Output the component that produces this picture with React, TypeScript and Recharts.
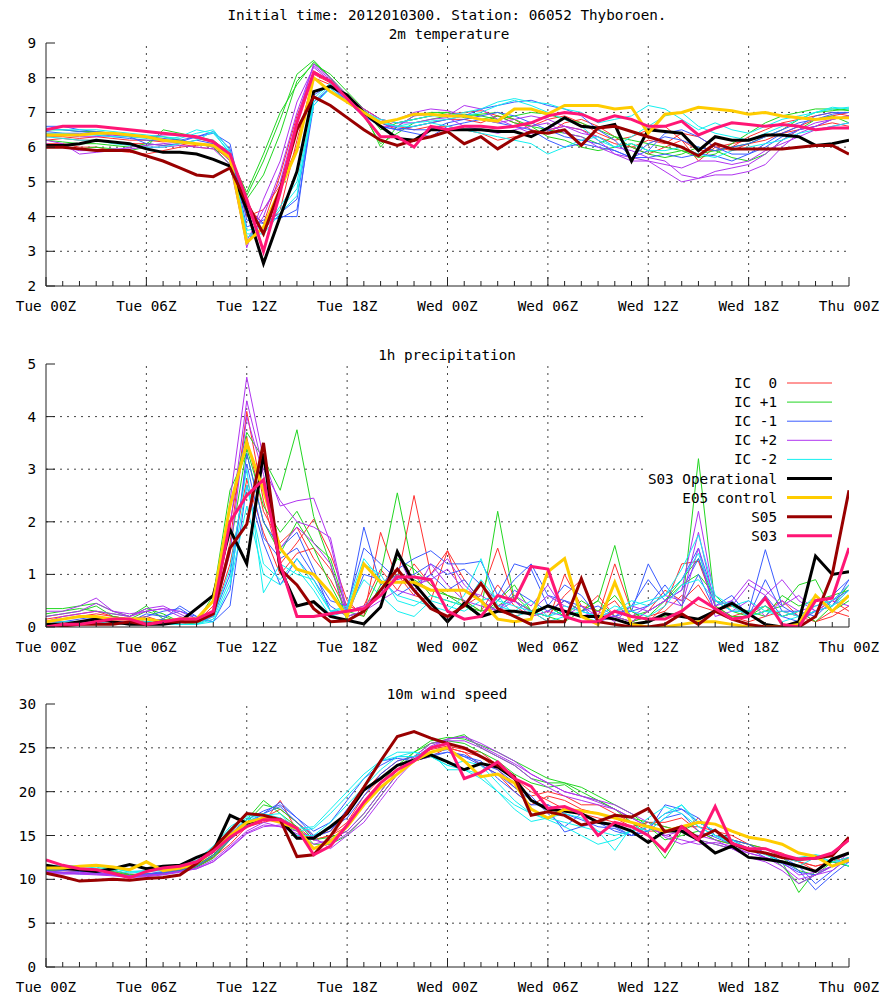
import React from 'react';
import { LineChart, Line, XAxis, YAxis, ReferenceLine } from 'recharts';

const FONT = '"DejaVu Sans Mono", "Liberation Mono", monospace';
const FRAME = '#222';
const GRID = '#444';

const hours = [
  0, 1, 2, 3, 4, 5, 6, 7, 8, 9, 10, 11, 12, 13, 14, 15, 16, 17, 18, 19, 20, 21, 22, 23, 24,
  25, 26, 27, 28, 29, 30, 31, 32, 33, 34, 35, 36, 37, 38, 39, 40, 41, 42, 43, 44, 45, 46, 47, 48,
];
const majorHours = [0, 6, 12, 18, 24, 30, 36, 42, 48];
const xTickLabels = ['Tue 00Z', 'Tue 06Z', 'Tue 12Z', 'Tue 18Z', 'Wed 00Z', 'Wed 06Z', 'Wed 12Z', 'Wed 18Z', 'Thu 00Z'];

const tempTicks = [2, 3, 4, 5, 6, 7, 8, 9];
const precTicks = [0, 1, 2, 3, 4, 5];
const windTicks = [0, 5, 10, 15, 20, 25, 30];

// 2m temperature
const tRedA = [6.2, 6.25, 6.2, 6.2, 6.15, 6.1, 6.1, 6.05, 6.1, 6.0, 5.95, 5.7, 4.3, 3.8, 5.2, 6.9, 8.2, 7.9, 7.4, 7.0, 6.7, 6.5, 6.6, 6.7, 6.8,
  6.8, 6.7, 6.9, 6.8, 6.5, 6.4, 6.7, 6.8, 6.6, 6.3, 6.0, 6.2, 6.1, 6.4, 6.3, 6.0, 5.9, 6.1, 6.2, 6.4, 6.6, 6.8, 6.9, 7.0];
const tRedB = [6.1, 6.1, 6.0, 6.0, 5.9, 5.85, 5.8, 5.9, 6.0, 6.05, 6.1, 5.8, 4.1, 3.6, 4.2, 6.2, 8.0, 7.8, 7.5, 7.1, 6.8, 6.6, 6.5, 6.6, 6.6,
  6.5, 6.4, 6.2, 6.3, 6.4, 6.5, 6.6, 6.5, 6.3, 6.1, 6.0, 5.8, 6.0, 6.2, 5.6, 6.0, 6.1, 6.2, 6.3, 6.4, 6.5, 6.6, 6.7, 6.6];
const tRedC = [6.3, 6.3, 6.25, 6.3, 6.25, 6.2, 6.2, 6.15, 6.2, 6.1, 6.05, 5.6, 4.0, 4.2, 4.9, 6.0, 8.1, 7.85, 7.45, 7.1, 6.8, 6.7, 6.8, 6.9, 6.95,
  7.0, 7.05, 6.9, 6.7, 6.6, 6.8, 6.9, 6.7, 6.4, 6.2, 6.3, 6.5, 6.6, 6.2, 5.9, 5.9, 6.0, 6.3, 6.5, 6.7, 6.8, 6.9, 7.0, 6.9];
const tGreenA = [6.0, 6.0, 5.95, 6.0, 5.95, 5.9, 6.0, 6.5, 6.4, 6.3, 6.2, 5.8, 4.6, 5.6, 6.8, 8.1, 8.5, 8.0, 7.4, 6.9, 6.1, 6.4, 6.7, 6.8, 6.9,
  6.95, 6.9, 6.8, 6.9, 7.0, 6.95, 6.8, 6.7, 6.5, 6.3, 6.2, 6.1, 6.0, 5.9, 5.8, 5.9, 6.0, 6.1, 6.3, 6.5, 6.8, 7.0, 7.05, 7.1];
const tGreenB = [6.5, 6.5, 6.45, 6.45, 6.4, 6.3, 6.3, 6.3, 6.2, 6.1, 6.0, 5.5, 4.5, 5.2, 6.4, 7.9, 8.4, 8.1, 7.6, 7.1, 6.5, 6.7, 6.8, 6.9, 7.0,
  6.85, 6.8, 6.9, 6.7, 6.6, 6.5, 6.4, 6.3, 6.1, 6.3, 6.0, 5.8, 5.7, 5.8, 6.0, 5.9, 5.7, 5.6, 5.8, 6.2, 6.5, 6.8, 6.9, 6.7];
const tGreenC = [6.2, 6.15, 6.1, 6.1, 6.05, 6.0, 6.1, 6.4, 6.35, 6.25, 6.15, 5.7, 4.7, 5.8, 7.0, 7.8, 8.45, 8.0, 7.5, 7.0, 6.0, 6.6, 6.9, 7.0, 7.0,
  6.9, 6.95, 7.0, 6.8, 6.6, 6.3, 6.2, 6.0, 5.9, 6.0, 6.1, 5.9, 5.8, 5.9, 5.7, 5.8, 6.1, 6.4, 6.7, 6.9, 7.0, 7.1, 7.1, 7.05];
const tBlueA = [6.6, 6.6, 6.5, 6.45, 6.4, 6.35, 6.3, 6.25, 6.2, 6.3, 6.4, 6.1, 3.9, 3.8, 4.0, 4.0, 7.5, 7.8, 7.3, 6.9, 6.6, 6.5, 6.6, 6.7, 6.8,
  6.9, 7.1, 7.2, 7.3, 7.35, 7.2, 7.1, 6.9, 6.5, 6.2, 5.7, 5.9, 6.4, 6.5, 6.3, 6.0, 5.8, 5.8, 6.1, 6.4, 6.6, 6.9, 7.0, 7.0];
const tBlueB = [6.55, 6.5, 6.45, 6.4, 6.35, 6.3, 6.1, 6.05, 6.1, 6.2, 6.1, 5.9, 4.2, 3.8, 4.1, 4.5, 7.3, 7.7, 7.3, 6.9, 6.6, 6.5, 6.4, 6.3, 6.6,
  6.7, 6.8, 6.7, 6.6, 6.5, 6.2, 6.0, 6.1, 6.0, 5.9, 5.7, 5.7, 5.8, 5.7, 5.8, 5.75, 5.6, 5.8, 6.0, 6.3, 6.5, 6.6, 6.8, 6.9];
const tBlueC = [6.45, 6.4, 6.4, 6.35, 6.3, 6.25, 6.2, 6.2, 6.15, 6.3, 6.45, 5.95, 3.7, 3.9, 3.95, 4.2, 7.2, 7.75, 7.35, 7.0, 6.7, 6.55, 6.5, 6.5, 6.7,
  6.8, 6.9, 7.0, 6.9, 6.7, 6.5, 6.3, 6.2, 6.1, 5.9, 5.7, 6.1, 6.3, 6.2, 6.0, 5.9, 6.0, 6.1, 6.3, 6.5, 6.7, 6.8, 6.95, 7.0];
const tPurpleA = [6.2, 6.1, 5.8, 5.85, 5.9, 6.0, 6.05, 6.1, 6.15, 6.1, 6.0, 5.7, 3.1, 4.5, 5.6, 7.3, 8.3, 7.9, 7.4, 7.0, 6.6, 6.6, 6.9, 6.95, 6.9,
  7.2, 7.1, 6.8, 6.6, 6.4, 6.5, 6.6, 6.5, 6.2, 5.8, 5.6, 5.6, 5.3, 5.0, 5.1, 5.2, 5.2, 5.3, 5.5, 6.0, 6.4, 6.6, 6.8, 6.9];
const tPurpleB = [6.4, 6.35, 6.3, 6.3, 6.35, 6.3, 6.3, 6.35, 6.35, 6.25, 6.2, 5.6, 3.3, 4.2, 5.0, 6.8, 8.4, 8.0, 7.5, 7.1, 6.8, 6.7, 6.7, 6.8, 6.85,
  6.6, 6.5, 6.4, 6.5, 6.6, 6.7, 6.4, 6.3, 6.0, 5.8, 5.7, 5.6, 5.5, 5.4, 5.6, 5.6, 5.5, 5.6, 5.9, 6.1, 6.3, 6.5, 6.6, 6.7];
const tPurpleC = [6.1, 6.0, 5.9, 5.9, 5.95, 5.95, 6.0, 6.0, 6.05, 6.0, 5.95, 5.5, 3.2, 4.0, 5.3, 7.0, 8.35, 7.95, 7.45, 7.05, 6.7, 6.8, 7.0, 7.1, 7.05,
  6.9, 6.8, 6.7, 6.8, 6.9, 6.8, 6.6, 6.4, 6.3, 6.0, 5.9, 5.7, 5.6, 5.2, 5.1, 5.3, 5.4, 5.5, 5.8, 6.2, 6.5, 6.7, 6.8, 6.9];
const tCyanA = [6.5, 6.5, 6.5, 6.5, 6.45, 6.4, 6.35, 6.3, 6.25, 6.4, 6.5, 5.9, 3.4, 3.6, 4.3, 5.0, 7.3, 7.8, 7.4, 7.0, 6.8, 6.7, 6.8, 6.9, 6.9,
  7.0, 7.1, 7.3, 7.4, 7.3, 7.25, 7.1, 7.0, 6.7, 6.8, 6.9, 7.2, 7.1, 6.8, 6.5, 6.7, 6.5, 6.4, 6.6, 6.8, 6.9, 7.0, 7.15, 7.1];
const tCyanB = [6.3, 6.25, 6.2, 6.2, 6.1, 6.05, 6.0, 6.0, 6.1, 6.2, 6.45, 5.8, 3.6, 3.7, 4.2, 4.8, 7.2, 7.7, 7.3, 7.0, 6.7, 6.6, 6.6, 6.7, 6.6,
  6.5, 6.4, 6.3, 6.2, 6.1, 5.8, 6.0, 6.2, 6.3, 6.0, 6.1, 5.9, 5.9, 6.0, 5.8, 5.7, 5.9, 6.0, 6.1, 6.2, 6.4, 6.5, 6.6, 6.7];
const tCyanC = [6.4, 6.4, 6.35, 6.35, 6.3, 6.3, 6.25, 6.2, 6.3, 6.5, 6.4, 5.85, 3.5, 3.5, 4.1, 4.6, 7.4, 7.85, 7.4, 7.05, 6.75, 6.6, 6.7, 6.75, 6.8,
  6.9, 7.0, 7.2, 7.35, 7.2, 7.0, 6.8, 6.6, 6.2, 6.0, 6.3, 6.6, 6.9, 7.0, 6.6, 6.4, 6.3, 6.2, 6.4, 6.6, 6.8, 7.0, 7.1, 7.15];
const tOper = [6.05, 6.05, 6.1, 6.2, 6.15, 6.1, 5.95, 5.85, 5.85, 5.8, 5.65, 5.45, 4.2, 2.65, 4.0, 5.3, 7.6, 7.75, 7.5, 7.0, 6.6, 6.25, 6.2, 6.5, 6.5,
  6.5, 6.5, 6.45, 6.45, 6.3, 6.55, 6.85, 6.6, 6.55, 6.65, 5.6, 6.5, 6.45, 6.4, 5.9, 6.3, 6.2, 6.2, 6.35, 6.35, 6.3, 6.05, 6.1, 6.2];
const tCtrl = [6.35, 6.35, 6.35, 6.4, 6.4, 6.35, 6.3, 6.2, 6.15, 6.1, 6.05, 5.7, 3.25, 3.7, 4.8, 5.9, 8.0, 7.6, 7.3, 7.0, 6.7, 6.8, 6.95, 6.95, 6.9,
  6.9, 6.8, 6.75, 7.1, 7.1, 6.95, 7.2, 7.2, 7.2, 7.1, 7.15, 6.4, 6.95, 7.0, 7.15, 7.1, 7.05, 6.95, 7.0, 6.9, 6.85, 6.8, 6.85, 6.85];
const tS05 = [6.0, 6.0, 5.95, 5.9, 5.9, 5.9, 5.75, 5.6, 5.4, 5.2, 5.15, 5.4, 4.4, 3.5, 4.8, 6.5, 7.45, 7.2, 6.85, 6.5, 6.2, 6.05, 6.2, 6.3, 6.45,
  6.1, 6.3, 5.95, 6.25, 6.45, 6.4, 6.5, 6.05, 6.55, 6.6, 6.45, 6.3, 6.15, 6.0, 5.75, 6.1, 5.95, 5.95, 5.95, 5.95, 6.0, 6.05, 6.05, 5.8];
const tS03 = [6.5, 6.6, 6.6, 6.6, 6.55, 6.5, 6.45, 6.4, 6.35, 6.3, 6.15, 5.8, 4.5, 3.0, 4.7, 6.7, 8.15, 7.9, 7.4, 6.9, 6.3, 6.3, 6.0, 6.6, 6.5,
  6.6, 6.6, 6.55, 6.6, 6.7, 6.9, 7.0, 6.95, 6.75, 6.9, 6.8, 6.6, 6.6, 6.75, 6.35, 6.55, 6.7, 6.65, 6.6, 6.65, 6.6, 6.5, 6.55, 6.55];

// 1h precipitation
const pRedA = [0.1, 0.15, 0.2, 0.25, 0.2, 0.15, 0.1, 0.15, 0.1, 0.1, 0.3, 1.6, 4.1, 2.4, 1.2, 1.6, 2.05, 1.4, 0.5, 0.2, 1.8, 0.9, 2.5, 1.0, 1.45,
  0.4, 0.6, 1.5, 0.5, 0.3, 0.2, 0.6, 0.9, 0.2, 1.2, 0.3, 0.1, 0.4, 1.2, 1.25, 0.4, 0.2, 0.3, 0.4, 0.2, 0.3, 0.1, 0.2, 0.4];
const pRedB = [0.05, 0.1, 0.1, 0.15, 0.1, 0.1, 0.1, 0.05, 0.1, 0.05, 0.2, 1.2, 2.8, 1.8, 1.0, 1.4, 1.5, 1.1, 0.4, 0.3, 0.6, 1.0, 0.6, 0.5, 1.45,
  0.9, 0.5, 0.3, 0.2, 0.3, 0.1, 1.0, 0.4, 0.3, 0.5, 0.1, 0.2, 0.3, 0.6, 0.4, 0.3, 0.2, 0.1, 0.2, 0.3, 0.2, 0.1, 0.3, 0.2];
const pRedC = [0.15, 0.2, 0.25, 0.3, 0.2, 0.15, 0.2, 0.1, 0.05, 0.1, 0.4, 2.0, 3.6, 2.2, 1.6, 1.9, 1.3, 0.9, 0.3, 0.4, 1.1, 0.7, 1.2, 0.8, 0.6,
  0.5, 0.3, 0.8, 0.4, 0.2, 0.3, 0.5, 0.3, 0.6, 0.2, 0.1, 0.3, 0.7, 0.5, 0.8, 0.3, 0.4, 0.2, 0.3, 0.5, 0.2, 0.3, 0.5, 0.3];
const pGreenA = [0.35, 0.35, 0.4, 0.45, 0.3, 0.2, 0.4, 0.15, 0.1, 0.1, 0.5, 2.3, 3.7, 3.2, 2.6, 3.75, 2.1, 1.2, 0.1, 0.3, 1.0, 2.55, 1.0, 0.6, 0.5,
  0.4, 0.3, 2.2, 0.5, 0.3, 0.2, 0.1, 0.3, 0.5, 1.55, 0.3, 0.1, 0.2, 0.3, 3.2, 0.4, 0.2, 0.2, 0.3, 0.4, 0.8, 0.9, 0.3, 0.5];
const pGreenB = [0.2, 0.25, 0.3, 0.4, 0.2, 0.15, 0.3, 0.2, 0.1, 0.05, 0.3, 1.5, 3.4, 2.3, 1.8, 2.2, 1.6, 1.3, 0.3, 0.2, 0.8, 1.0, 0.9, 0.7, 0.6,
  0.4, 0.2, 0.5, 0.8, 0.3, 0.4, 0.2, 0.3, 0.5, 0.2, 0.1, 0.2, 0.5, 0.8, 1.0, 0.6, 0.3, 0.2, 0.4, 0.2, 0.3, 0.1, 0.4, 0.8];
const pGreenC = [0.25, 0.3, 0.35, 0.3, 0.25, 0.2, 0.35, 0.25, 0.1, 0.1, 0.6, 2.6, 3.3, 2.0, 1.4, 2.0, 1.5, 0.8, 0.2, 0.3, 0.7, 1.3, 1.1, 0.8, 0.6,
  0.5, 0.3, 0.4, 0.6, 0.3, 0.4, 0.2, 0.5, 0.3, 0.6, 0.2, 0.3, 0.5, 0.9, 1.3, 0.5, 0.4, 0.3, 0.2, 0.6, 0.4, 0.5, 0.6, 0.7];
const pBlueA = [0.1, 0.1, 0.15, 0.2, 0.1, 0.05, 0.2, 0.3, 0.35, 0.15, 0.1, 0.7, 3.3, 2.0, 1.5, 1.8, 1.1, 0.3, 0.3, 1.9, 0.8, 1.1, 1.3, 1.45, 1.2,
  1.2, 1.25, 0.6, 1.2, 1.1, 0.4, 0.8, 0.6, 0.2, 0.3, 0.3, 1.2, 0.6, 0.9, 1.5, 0.5, 0.3, 0.3, 1.47, 0.4, 0.2, 0.3, 0.6, 0.9];
const pBlueB = [0.05, 0.05, 0.1, 0.1, 0.05, 0.05, 0.1, 0.15, 0.4, 0.2, 0.1, 0.4, 2.7, 1.6, 0.8, 1.3, 0.9, 0.4, 0.2, 1.0, 0.9, 0.6, 0.8, 1.0, 0.7,
  0.9, 0.5, 0.3, 0.7, 0.5, 0.3, 0.5, 0.4, 0.1, 0.2, 0.3, 0.4, 0.8, 0.4, 1.0, 0.3, 0.5, 0.2, 0.6, 0.2, 0.1, 0.3, 0.4, 0.9];
const pBlueC = [0.1, 0.15, 0.2, 0.15, 0.1, 0.1, 0.25, 0.2, 0.3, 0.2, 0.2, 1.0, 3.1, 1.7, 1.3, 1.5, 1.0, 0.5, 0.4, 1.5, 1.2, 0.9, 1.0, 1.2, 1.0,
  1.1, 0.8, 0.5, 0.9, 1.2, 0.6, 0.5, 0.3, 0.4, 0.2, 0.4, 0.9, 0.5, 0.7, 1.3, 0.4, 0.6, 0.2, 0.9, 0.3, 0.3, 0.2, 0.5, 0.7];
const pPurpleA = [0.3, 0.3, 0.4, 0.55, 0.3, 0.2, 0.3, 0.35, 0.2, 0.1, 0.3, 2.4, 4.75, 3.2, 2.3, 2.4, 2.45, 1.6, 0.2, 0.3, 0.6, 1.4, 0.7, 1.0, 1.3,
  0.8, 0.5, 0.3, 0.6, 0.4, 0.8, 0.3, 0.2, 0.3, 0.1, 0.4, 0.3, 0.5, 0.7, 2.2, 0.5, 0.4, 0.8, 0.6, 0.9, 0.5, 0.3, 0.4, 0.7];
const pPurpleB = [0.1, 0.2, 0.25, 0.3, 0.25, 0.2, 0.35, 0.4, 0.25, 0.1, 0.2, 1.4, 4.0, 2.9, 1.5, 1.9, 1.6, 1.2, 0.2, 0.3, 0.5, 0.7, 0.6, 1.2, 0.8,
  0.5, 0.4, 0.3, 0.5, 0.2, 0.3, 0.2, 0.4, 0.2, 0.2, 0.1, 0.3, 0.5, 0.4, 1.5, 0.2, 0.3, 0.5, 0.2, 0.5, 0.3, 0.4, 0.5, 0.4];
const pPurpleC = [0.2, 0.25, 0.3, 0.45, 0.3, 0.25, 0.3, 0.35, 0.3, 0.15, 0.25, 1.9, 4.3, 3.0, 2.4, 2.0, 1.9, 1.7, 0.3, 0.4, 0.7, 1.0, 0.8, 0.9, 1.1,
  0.7, 0.6, 0.4, 0.5, 0.3, 0.6, 0.4, 0.3, 0.2, 0.3, 0.2, 0.4, 0.6, 0.5, 1.8, 0.4, 0.5, 0.9, 0.7, 0.4, 0.6, 0.3, 0.5, 0.8];
const pCyanA = [0.05, 0.1, 0.1, 0.15, 0.1, 0.05, 0.15, 0.1, 0.05, 0.05, 0.2, 1.1, 3.0, 0.65, 1.2, 1.0, 0.9, 0.3, 0.4, 1.3, 0.9, 0.6, 0.5, 0.4, 0.3,
  0.6, 1.3, 0.4, 0.3, 0.5, 0.2, 0.3, 0.2, 0.1, 0.3, 0.4, 0.5, 0.6, 1.1, 1.75, 0.6, 0.4, 0.5, 0.3, 0.2, 0.3, 0.6, 0.4, 0.7];
const pCyanB = [0.0, 0.05, 0.05, 0.1, 0.05, 0.05, 0.1, 0.05, 0.05, 0.05, 0.1, 0.8, 2.3, 1.0, 0.8, 1.1, 0.7, 0.2, 0.3, 0.9, 0.6, 0.3, 0.2, 0.5, 0.4,
  0.3, 0.5, 0.6, 0.2, 0.3, 0.1, 0.2, 0.3, 0.2, 0.4, 0.3, 0.2, 0.4, 0.8, 0.9, 0.5, 0.3, 0.3, 0.4, 0.1, 0.2, 0.3, 0.4, 0.6];
const pCyanC = [0.05, 0.05, 0.1, 0.1, 0.05, 0.05, 0.1, 0.1, 0.05, 0.05, 0.15, 0.9, 2.7, 1.2, 0.9, 1.3, 0.8, 0.3, 0.35, 1.2, 1.0, 0.5, 0.4, 0.6, 0.5,
  0.4, 0.9, 0.5, 0.4, 0.3, 0.2, 0.4, 0.3, 0.2, 0.3, 0.5, 0.4, 0.6, 0.9, 1.4, 0.5, 0.4, 0.2, 0.3, 0.3, 0.2, 0.4, 0.5, 0.8];
const pOper = [0.05, 0.05, 0.1, 0.15, 0.1, 0.05, 0.05, 0.05, 0.1, 0.35, 0.6, 1.85, 1.2, 3.3, 1.1, 0.4, 0.48, 0.2, 0.13, 0.06, 0.38, 1.43, 0.83, 0.45, 0.1,
  0.45, 0.2, 0.3, 0.3, 0.25, 0.4, 0.3, 0.2, 0.2, 0.15, 0.05, 0.1, 0.25, 0.2, 0.15, 0.3, 0.45, 0.25, 0.05, 0.0, 0.1, 1.35, 1.0, 1.05];
const pCtrl = [0.1, 0.15, 0.2, 0.2, 0.15, 0.15, 0.15, 0.1, 0.15, 0.15, 0.5, 2.3, 3.5, 2.6, 1.5, 1.1, 1.0, 0.65, 0.2, 1.2, 0.85, 0.85, 0.85, 0.7, 0.7,
  0.7, 0.5, 0.15, 0.1, 0.15, 1.05, 1.3, 0.2, 0.05, 0.85, 0.05, 0.0, 0.0, 0.05, 0.1, 0.1, 0.05, 0.0, 0.0, 0.0, 0.05, 0.6, 0.3, 0.6];
const pS05 = [0.0, 0.02, 0.05, 0.05, 0.05, 0.1, 0.05, 0.1, 0.1, 0.1, 0.25, 1.5, 1.95, 3.5, 1.1, 0.8, 0.35, 0.1, 0.12, 0.3, 0.7, 1.1, 0.7, 0.35, 0.2,
  0.4, 0.83, 0.35, 0.2, 0.05, 0.1, 0.1, 0.92, 0.1, 0.05, 0.0, 0.0, 0.05, 0.25, 0.05, 0.3, 0.15, 0.05, 0.0, 0.0, 0.0, 0.2, 1.0, 2.6];
const pS03 = [0.0, 0.05, 0.05, 0.1, 0.15, 0.15, 0.05, 0.1, 0.15, 0.15, 0.3, 2.0, 2.5, 2.8, 1.2, 0.2, 0.2, 0.25, 0.3, 0.35, 0.6, 0.95, 0.95, 0.9, 0.3,
  0.15, 0.2, 0.6, 0.5, 1.15, 1.1, 0.2, 0.1, 0.1, 0.3, 0.2, 0.15, 0.15, 0.3, 0.55, 0.35, 0.15, 0.2, 0.55, 0.05, 0.0, 0.5, 0.55, 1.5];

// 10m wind speed
const wRedA = [11.0, 11.0, 11.2, 11.0, 11.0, 10.6, 10.5, 10.7, 11.0, 11.5, 12.5, 14.5, 16.2, 16.5, 19.0, 15.5, 14.5, 15.0, 16.5, 19.5, 21.5, 23.0, 23.5, 24.5, 25.0,
  24.5, 24.0, 22.5, 20.5, 19.5, 20.0, 19.5, 18.5, 18.5, 17.5, 16.5, 15.5, 15.5, 16.0, 16.0, 15.5, 15.0, 14.0, 13.5, 13.0, 12.0, 11.5, 12.0, 13.0];
const wRedB = [10.8, 10.8, 10.9, 11.0, 10.9, 10.3, 10.4, 10.6, 10.9, 11.4, 12.5, 14.0, 16.0, 16.5, 17.0, 16.0, 14.5, 15.0, 16.0, 18.5, 20.5, 22.0, 23.5, 24.0, 25.0,
  24.5, 23.0, 22.0, 20.0, 18.5, 19.5, 19.0, 18.0, 17.5, 17.0, 16.0, 16.5, 16.0, 15.5, 17.0, 15.0, 14.5, 14.0, 13.0, 12.5, 12.0, 11.0, 12.5, 12.0];
const wRedC = [11.2, 11.1, 11.0, 11.1, 10.8, 10.5, 10.6, 10.8, 11.1, 11.6, 12.8, 14.8, 16.5, 17.0, 18.0, 16.5, 15.0, 15.5, 17.5, 20.0, 22.0, 23.5, 24.0, 24.8, 25.2,
  24.8, 24.5, 23.0, 21.5, 20.0, 19.0, 18.0, 17.5, 17.0, 16.5, 16.0, 16.5, 16.5, 17.0, 15.5, 14.5, 14.0, 13.5, 13.0, 12.5, 12.0, 11.5, 12.0, 12.5];
const wGreenA = [11.3, 11.3, 11.2, 11.2, 11.1, 10.5, 10.7, 10.6, 11.0, 11.6, 12.8, 14.8, 16.8, 19.0, 17.5, 16.0, 14.0, 14.0, 15.0, 17.0, 19.5, 22.0, 24.0, 25.5, 26.0,
  26.5, 25.0, 24.0, 23.0, 21.5, 21.0, 21.0, 20.0, 19.0, 18.0, 16.5, 15.0, 12.4, 15.5, 14.5, 14.0, 13.5, 13.5, 13.0, 12.0, 8.5, 11.0, 12.0, 11.5];
const wGreenB = [11.0, 11.1, 11.3, 11.1, 10.8, 10.2, 10.5, 10.6, 10.9, 11.4, 12.4, 14.5, 16.3, 17.0, 16.5, 15.5, 13.5, 14.5, 16.0, 18.5, 21.0, 23.0, 24.5, 25.5, 25.8,
  25.5, 24.5, 23.5, 22.0, 21.0, 20.5, 20.8, 19.5, 19.0, 18.0, 17.0, 16.5, 16.0, 15.5, 16.5, 15.5, 14.5, 14.0, 13.5, 12.5, 11.0, 10.5, 12.0, 11.5];
const wGreenC = [11.1, 11.2, 11.2, 11.0, 10.9, 10.4, 10.5, 10.7, 11.0, 11.5, 12.6, 14.6, 16.5, 18.5, 18.0, 16.5, 14.5, 14.8, 15.5, 17.5, 20.0, 22.5, 24.5, 25.8, 26.2,
  26.0, 25.3, 24.5, 23.5, 22.5, 21.5, 21.0, 20.5, 19.5, 18.5, 17.5, 16.0, 14.5, 15.0, 15.5, 14.5, 14.0, 13.5, 13.0, 11.5, 9.5, 10.5, 11.5, 12.5];
const wBlueA = [11.0, 10.8, 10.6, 10.6, 10.5, 10.3, 10.5, 10.8, 11.2, 11.8, 13.0, 15.0, 16.5, 17.5, 18.3, 16.5, 14.8, 15.5, 18.0, 20.5, 23.5, 23.8, 23.5, 24.0, 24.5,
  24.0, 23.0, 22.0, 20.5, 19.0, 18.0, 15.4, 16.0, 16.5, 16.0, 15.0, 15.5, 18.5, 18.0, 16.5, 15.5, 14.5, 13.5, 13.0, 12.0, 11.0, 8.8, 10.5, 12.0];
const wBlueB = [11.2, 11.0, 10.9, 10.8, 10.6, 10.4, 10.6, 10.7, 11.0, 11.5, 12.7, 14.5, 16.2, 17.5, 18.8, 17.0, 15.0, 15.8, 17.0, 19.5, 22.0, 23.5, 24.0, 24.5, 24.8,
  24.0, 23.5, 21.5, 20.0, 18.5, 18.5, 17.5, 16.8, 16.0, 15.8, 15.0, 15.5, 17.0, 17.5, 15.5, 14.8, 14.0, 13.5, 12.5, 11.8, 10.8, 10.5, 11.5, 12.0];
const wBlueC = [10.9, 10.7, 10.7, 10.7, 10.5, 10.4, 10.6, 10.9, 11.3, 12.0, 13.3, 15.2, 16.8, 17.8, 18.5, 17.0, 15.5, 16.5, 19.0, 21.5, 23.0, 24.0, 24.0, 24.2, 24.5,
  24.2, 23.2, 22.5, 21.0, 19.5, 17.5, 16.0, 17.5, 16.5, 15.5, 15.0, 16.0, 17.5, 18.0, 17.0, 15.0, 14.5, 14.0, 13.0, 12.5, 11.5, 9.5, 11.0, 12.5];
const wPurpleA = [10.7, 10.6, 10.6, 10.5, 10.4, 10.2, 10.3, 10.5, 10.8, 11.3, 12.2, 13.8, 15.5, 16.5, 16.0, 15.5, 14.8, 13.5, 15.0, 16.5, 19.0, 21.5, 23.5, 25.0, 26.0,
  26.3, 25.5, 24.5, 23.5, 22.0, 21.0, 20.0, 19.5, 19.0, 18.5, 17.5, 16.5, 14.8, 14.0, 14.5, 14.0, 13.5, 12.5, 12.0, 11.0, 9.5, 10.5, 11.5, 13.0];
const wPurpleB = [10.9, 10.8, 10.8, 10.7, 10.6, 10.4, 10.5, 10.6, 10.9, 11.2, 12.0, 13.5, 15.2, 16.0, 16.2, 15.0, 14.0, 14.5, 15.5, 17.5, 20.0, 22.5, 24.0, 25.5, 25.8,
  25.8, 25.0, 24.0, 23.0, 21.5, 20.5, 19.5, 19.0, 18.5, 18.0, 17.0, 16.0, 15.0, 15.5, 15.0, 14.5, 13.5, 13.0, 12.5, 12.0, 10.5, 10.8, 11.5, 12.0];
const wPurpleC = [10.8, 10.7, 10.7, 10.6, 10.5, 10.3, 10.4, 10.6, 10.9, 11.2, 12.0, 13.6, 15.3, 16.2, 16.0, 15.2, 14.5, 14.0, 15.2, 17.0, 19.5, 22.0, 23.8, 25.2, 26.0,
  26.2, 25.2, 24.2, 23.2, 22.0, 21.0, 20.0, 19.5, 18.8, 18.0, 17.0, 16.0, 15.0, 14.5, 14.0, 14.2, 13.8, 13.0, 12.5, 11.5, 10.0, 10.5, 11.0, 12.5];
const wCyanA = [11.4, 11.5, 11.5, 11.6, 11.3, 10.8, 11.0, 11.1, 11.5, 12.0, 13.5, 15.8, 17.0, 17.3, 17.5, 15.5, 15.8, 17.5, 19.5, 21.5, 23.5, 24.0, 24.0, 24.5, 22.5,
  22.5, 22.0, 20.0, 18.0, 16.6, 17.0, 16.5, 16.0, 15.5, 13.3, 16.0, 15.5, 17.0, 18.5, 16.5, 15.5, 14.5, 13.5, 13.0, 12.5, 12.0, 12.8, 12.5, 11.5];
const wCyanB = [11.5, 11.3, 11.2, 11.4, 11.0, 10.7, 10.9, 11.0, 11.3, 11.8, 13.2, 15.5, 16.8, 17.0, 16.5, 15.0, 15.0, 16.5, 18.5, 20.5, 22.5, 24.0, 24.5, 24.0, 23.0,
  23.5, 23.0, 21.0, 19.0, 17.5, 17.0, 17.5, 17.0, 15.5, 15.0, 15.5, 16.0, 17.5, 18.5, 16.0, 15.0, 14.0, 13.5, 12.8, 12.0, 11.5, 12.5, 12.0, 12.5];
const wCyanC = [11.6, 11.6, 11.5, 11.5, 11.2, 10.9, 11.0, 11.2, 11.6, 12.2, 13.8, 16.0, 17.2, 17.5, 17.0, 15.8, 16.0, 18.0, 20.0, 22.0, 23.5, 24.5, 24.5, 24.0, 23.0,
  22.5, 21.5, 20.0, 18.5, 17.5, 16.8, 16.0, 15.0, 14.0, 14.5, 15.5, 17.0, 18.3, 17.5, 16.0, 15.0, 14.2, 13.5, 13.0, 12.5, 12.5, 12.8, 12.0, 12.0];
const wOper = [11.6, 11.3, 11.1, 10.9, 11.2, 11.7, 11.2, 11.5, 11.6, 12.5, 13.2, 17.3, 16.4, 16.9, 16.8, 14.7, 14.7, 16.0, 17.5, 20.2, 21.5, 23.0, 23.6, 24.2, 23.4,
  22.5, 23.2, 22.8, 21.5, 19.0, 18.0, 17.8, 17.5, 16.5, 16.2, 15.5, 14.2, 15.5, 15.5, 14.5, 13.0, 13.8, 12.5, 12.3, 12.0, 11.5, 10.9, 12.3, 13.0];
const wCtrl = [11.3, 11.3, 11.5, 11.6, 11.4, 11.1, 12.0, 11.0, 11.3, 11.8, 13.3, 15.0, 16.5, 17.0, 16.5, 15.8, 13.5, 14.3, 16.0, 18.5, 20.5, 22.0, 23.5, 24.5, 25.0,
  23.5, 21.7, 22.0, 21.0, 18.0, 17.0, 18.0, 17.8, 17.5, 17.0, 16.5, 16.0, 15.5, 16.0, 16.5, 16.3, 15.5, 14.8, 14.5, 14.0, 13.0, 12.6, 11.5, 12.2];
const wS05 = [10.7, 10.3, 9.8, 9.9, 10.0, 9.9, 10.1, 10.2, 10.5, 11.8, 13.5, 15.5, 17.5, 17.3, 16.8, 12.6, 12.8, 14.9, 17.7, 20.5, 23.5, 26.3, 26.85, 26.1, 25.5,
  25.0, 24.0, 23.0, 21.7, 17.3, 17.7, 17.3, 16.2, 16.6, 17.3, 17.1, 18.1, 15.4, 16.0, 14.7, 15.6, 14.1, 13.3, 13.0, 12.5, 12.3, 12.4, 12.7, 14.8];
const wS03 = [12.2, 11.6, 11.2, 11.1, 10.7, 10.2, 10.9, 11.3, 11.5, 12.0, 13.2, 14.8, 16.0, 16.8, 16.8, 15.8, 12.8, 13.8, 16.2, 18.8, 21.0, 22.5, 23.5, 25.0, 25.5,
  21.5, 22.2, 23.4, 21.5, 20.6, 18.1, 18.3, 17.5, 15.0, 16.5, 16.0, 15.0, 13.2, 16.0, 14.5, 18.3, 14.1, 13.5, 13.5, 12.8, 12.3, 12.4, 13.0, 14.5];

const legendNames = ['IC  0', 'IC +1', 'IC -1', 'IC +2', 'IC -2', 'S03 Operational', 'E05 control', 'S05', 'S03'];

const RED = '#ff3030';
const GREEN = '#22d622';
const BLUE = '#3a5cff';
const PURPLE = '#b034f0';
const CYAN = '#14f0f0';
const BLACK = '#000000';
const GOLD = '#ffcc00';
const DARKRED = '#990000';
const PINK = '#ff1675';

const legendColors = [RED, GREEN, BLUE, PURPLE, CYAN, BLACK, GOLD, DARKRED, PINK];
const legendWidths = [1, 1, 1, 1, 1, 3, 3, 3, 3];

const seriesStyle = [
  { key: 'redA', color: RED, width: 1 },
  { key: 'redB', color: RED, width: 1 },
  { key: 'redC', color: RED, width: 1 },
  { key: 'greenA', color: GREEN, width: 1 },
  { key: 'greenB', color: GREEN, width: 1 },
  { key: 'greenC', color: GREEN, width: 1 },
  { key: 'blueA', color: BLUE, width: 1 },
  { key: 'blueB', color: BLUE, width: 1 },
  { key: 'blueC', color: BLUE, width: 1 },
  { key: 'purpleA', color: PURPLE, width: 1 },
  { key: 'purpleB', color: PURPLE, width: 1 },
  { key: 'purpleC', color: PURPLE, width: 1 },
  { key: 'cyanA', color: CYAN, width: 1 },
  { key: 'cyanB', color: CYAN, width: 1 },
  { key: 'cyanC', color: CYAN, width: 1 },
  { key: 'oper', color: BLACK, width: 3 },
  { key: 'ctrl', color: GOLD, width: 3 },
  { key: 's05', color: DARKRED, width: 3 },
  { key: 's03', color: PINK, width: 3 },
];

function buildRows(series: Record<string, number[]>) {
  return hours.map((h, i) => {
    const row: Record<string, number> = { h };
    Object.keys(series).forEach((k) => {
      row[k] = series[k][i];
    });
    return row;
  });
}

const tempRows = buildRows({
  redA: tRedA, redB: tRedB, redC: tRedC, greenA: tGreenA, greenB: tGreenB, greenC: tGreenC,
  blueA: tBlueA, blueB: tBlueB, blueC: tBlueC, purpleA: tPurpleA, purpleB: tPurpleB, purpleC: tPurpleC,
  cyanA: tCyanA, cyanB: tCyanB, cyanC: tCyanC,
  oper: tOper, ctrl: tCtrl, s05: tS05, s03: tS03,
});
const precRows = buildRows({
  redA: pRedA, redB: pRedB, redC: pRedC, greenA: pGreenA, greenB: pGreenB, greenC: pGreenC,
  blueA: pBlueA, blueB: pBlueB, blueC: pBlueC, purpleA: pPurpleA, purpleB: pPurpleB, purpleC: pPurpleC,
  cyanA: pCyanA, cyanB: pCyanB, cyanC: pCyanC,
  oper: pOper, ctrl: pCtrl, s05: pS05, s03: pS03,
});
const windRows = buildRows({
  redA: wRedA, redB: wRedB, redC: wRedC, greenA: wGreenA, greenB: wGreenB, greenC: wGreenC,
  blueA: wBlueA, blueB: wBlueB, blueC: wBlueC, purpleA: wPurpleA, purpleB: wPurpleB, purpleC: wPurpleC,
  cyanA: wCyanA, cyanB: wCyanB, cyanC: wCyanC,
  oper: wOper, ctrl: wCtrl, s05: wS05, s03: wS03,
});

const textStyle = { fontFamily: FONT, fontSize: 14.3, fill: '#000' };

const BottomTick = (p: any) => {
  const v = p.payload.value;
  const idx = majorHours.indexOf(v);
  return (
    <g>
      <line x1={p.x} x2={p.x} y1={p.y} y2={p.y - (idx >= 0 ? 9 : 5)} stroke={FRAME} />
      {idx >= 0 && (
        <text x={p.x} y={p.y + 20} textAnchor="middle" dominantBaseline="central" style={textStyle}>
          {xTickLabels[idx]}
        </text>
      )}
    </g>
  );
};

const TopTick = (p: any) => {
  const major = majorHours.indexOf(p.payload.value) >= 0;
  return <line x1={p.x} x2={p.x} y1={p.y} y2={p.y + (major ? 9 : 5)} stroke={FRAME} />;
};

const LeftTick = (p: any) => (
  <g>
    <line x1={p.x} x2={p.x + 9} y1={p.y} y2={p.y} stroke={FRAME} />
    <text x={p.x - 10} y={p.y} textAnchor="end" dominantBaseline="central" style={textStyle}>
      {p.payload.value}
    </text>
  </g>
);

const RightTick = (p: any) => <line x1={p.x} x2={p.x - 9} y1={p.y} y2={p.y} stroke={FRAME} />;

type GridSeg = { x1: number; y1: number; x2: number; y2: number };

function fullGrid(yTicks: number[], yMin: number, yMax: number): GridSeg[] {
  const segs: GridSeg[] = [];
  yTicks.filter((t) => t > yMin && t < yMax).forEach((t) => segs.push({ x1: 0, y1: t, x2: 48, y2: t }));
  majorHours.filter((h) => h > 0 && h < 48).forEach((h) => segs.push({ x1: h, y1: yMin, x2: h, y2: yMax }));
  return segs;
}

// the key box in the precipitation panel hides the grid behind it
const keyEdgeHour = 35.9;
const keyBottom = 0.93;
const precGrid: GridSeg[] = [
  ...precTicks.filter((t) => t > 0 && t < 5).map((t) => ({ x1: 0, y1: t, x2: keyEdgeHour, y2: t })),
  ...majorHours.filter((h) => h > 0 && h < 48).map((h) => ({ x1: h, y1: 0, x2: h, y2: h < keyEdgeHour ? 5 : keyBottom })),
];

interface PanelProps {
  top: number;
  height: number;
  marginTop: number;
  xAxisHeight: number;
  rows: Record<string, number>[];
  domain: [number, number];
  yTicks: number[];
  grid: GridSeg[];
}

function Panel({ top, height, marginTop, xAxisHeight, rows, domain, yTicks, grid }: PanelProps) {
  return (
    <div style={{ position: 'absolute', left: 0, top }}>
      <LineChart width={882} height={height} data={rows} margin={{ top: marginTop, right: 33, bottom: 0, left: 0 }}>
        <XAxis
          dataKey="h"
          type="number"
          domain={[0, 48]}
          ticks={hours}
          interval={0}
          height={xAxisHeight}
          tickSize={0}
          tickMargin={0}
          tickLine={false}
          axisLine={{ stroke: FRAME }}
          tick={(p: any) => <BottomTick {...p} />}
          allowDataOverflow
        />
        <XAxis
          xAxisId="top"
          orientation="top"
          dataKey="h"
          type="number"
          domain={[0, 48]}
          ticks={hours}
          interval={0}
          height={0}
          tickSize={0}
          tickMargin={0}
          tickLine={false}
          axisLine={{ stroke: FRAME }}
          tick={(p: any) => <TopTick {...p} />}
        />
        <YAxis
          type="number"
          domain={domain}
          ticks={yTicks}
          interval={0}
          width={46}
          tickSize={0}
          tickMargin={0}
          tickLine={false}
          axisLine={{ stroke: FRAME }}
          tick={(p: any) => <LeftTick {...p} />}
          allowDataOverflow
        />
        <YAxis
          yAxisId="right"
          orientation="right"
          type="number"
          domain={domain}
          ticks={yTicks}
          interval={0}
          width={0}
          tickSize={0}
          tickMargin={0}
          tickLine={false}
          axisLine={{ stroke: FRAME }}
          tick={(p: any) => <RightTick {...p} />}
        />
        {grid.map((g, i) => (
          <ReferenceLine
            key={'g' + i}
            segment={[{ x: g.x1, y: g.y1 }, { x: g.x2, y: g.y2 }]}
            stroke={GRID}
            strokeWidth={1}
            strokeDasharray="2 5"
          />
        ))}
        {seriesStyle.map((s) => (
          <Line
            key={s.key}
            type="linear"
            dataKey={s.key}
            stroke={s.color}
            strokeWidth={s.width}
            dot={false}
            activeDot={false}
            isAnimationActive={false}
          />
        ))}
      </LineChart>
    </div>
  );
}

export default function App() {
  const legendX = 777;
  const legendTop = 383;
  const legendStep = 19.1;
  return (
    <div style={{ position: 'absolute', left: 0, top: 0, width: 882, height: 997, background: '#fff' }}>
      <Panel top={0} height={320} marginTop={43} xAxisHeight={34} rows={tempRows} domain={[2, 9]} yTicks={tempTicks} grid={fullGrid(tempTicks, 2, 9)} />
      <Panel top={330} height={330} marginTop={34} xAxisHeight={33} rows={precRows} domain={[0, 5]} yTicks={precTicks} grid={precGrid} />
      <Panel top={670} height={327} marginTop={34} xAxisHeight={30} rows={windRows} domain={[0, 30]} yTicks={windTicks} grid={fullGrid(windTicks, 0, 30)} />
      <svg width={882} height={997} style={{ position: 'absolute', left: 0, top: 0, pointerEvents: 'none' }}>
        <text x={447} y={15} textAnchor="middle" dominantBaseline="central" style={textStyle}>
          Initial time: 2012010300. Station: 06052 Thyboroen.
        </text>
        <text x={449} y={34} textAnchor="middle" dominantBaseline="central" style={textStyle}>
          2m temperature
        </text>
        <text x={447} y={355} textAnchor="middle" dominantBaseline="central" style={textStyle}>
          1h precipitation
        </text>
        <text x={447} y={694} textAnchor="middle" dominantBaseline="central" style={textStyle}>
          10m wind speed
        </text>
        {legendNames.map((name, i) => {
          const y = legendTop + i * legendStep;
          return (
            <g key={name}>
              <text x={legendX} y={y} textAnchor="end" dominantBaseline="central" style={{ ...textStyle, whiteSpace: 'pre' }}>
                {name}
              </text>
              <line x1={787} x2={832} y1={y} y2={y} stroke={legendColors[i]} strokeWidth={legendWidths[i]} />
            </g>
          );
        })}
      </svg>
    </div>
  );
}
